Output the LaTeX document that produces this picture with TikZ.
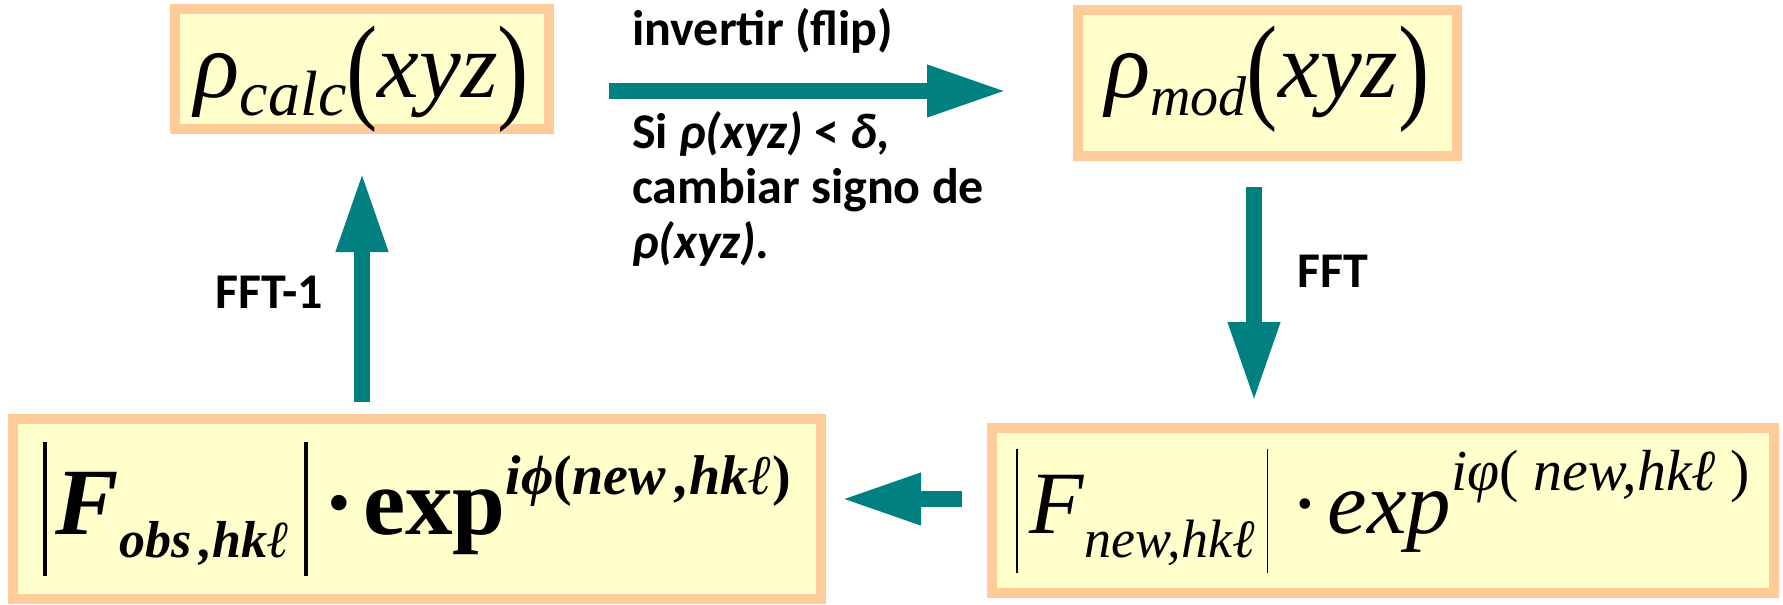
\documentclass[tikz,border=0pt]{standalone}
\usepackage{fontspec}
\usepackage{graphicx}
\setmainfont{Liberation Serif}
\newfontfamily\lblfont{Carlito}
\usetikzlibrary{arrows.meta, calc}
\definecolor{BoxFill}{HTML}{FFFFCC}
\definecolor{BoxLine}{HTML}{FFCC99}
\definecolor{Teal}   {HTML}{008080}
\newcommand{\fsz}[1]{\fontsize{#1}{#1}\selectfont}
\newcommand{\absbar}[3]{\raisebox{-#2}{\rule{#1}{#3}}}
\newcommand{\tallparen}[1]{\raisebox{-10pt}{\scalebox{1}[1.25]{\upshape #1}}}

\begin{document}
\begin{tikzpicture}[x=1pt, y=-1pt,
    formbox/.style={draw=BoxLine, fill=BoxFill, line width=10pt, inner sep=0pt, font=\rmfamily},
    flowarrow/.style={draw=Teal, line width=16pt, -{Triangle[length=80pt, width=48pt]}},
    lbl/.style={font={\lblfont\bfseries\fontsize{50}{55}\selectfont}, inner sep=0pt}]
      \path[use as bounding box, fill=white] (0,0) rectangle (1783,605);
      % ── density boxes (top row) ─────────────────────────────────────────────
      \node[formbox, minimum width=374pt, minimum height=120pt,
            text height=87pt, text depth=31pt] (calc) at (362,69)
        {\fsz{94}\itshape ρ\raisebox{-18pt}{\fsz{64}calc}\tallparen{(}xyz\tallparen{)}};
      \node[formbox, minimum width=379pt, minimum height=146pt,
            text height=59pt, text depth=31pt] (mod) at (1267.5,83)
        {\fsz{94}\itshape ρ\raisebox{-18pt}{\fsz{56}mod}\tallparen{(}xyz\tallparen{)}};
      % ── structure factor boxes (bottom row) ─────────────────────────────────
      \node[formbox, minimum width=808pt, minimum height=180pt,
            text height=92pt, text depth=42pt] (obs) at (417,509)
        {\fsz{95}\bfseries\absbar{3.5pt}{42pt}{134pt}\hspace{9pt}\textit{F}%
         \raisebox{-23pt}{\fsz{52}\itshape obs\,,hkℓ}\hspace{14pt}%
         \absbar{3.5pt}{42pt}{134pt}\hspace{16pt}·\hspace{8pt}exp%
         \raisebox{40pt}{\fsz{56}\itshape iϕ\upshape(\itshape new\,,hkℓ\upshape)}};
      \node[formbox, minimum width=782pt, minimum height=165pt,
            text height=85pt, text depth=40pt] (new) at (1383,510.5)
        {\fsz{89}\absbar{1.5pt}{40pt}{124pt}\hspace{12pt}\textit{F}%
         \raisebox{-24pt}{\fsz{54}\itshape new,hkℓ}\hspace{12pt}%
         \absbar{1.5pt}{40pt}{124pt}\hspace{22pt}·\hspace{8pt}\textit{exp}%
         \raisebox{43pt}{\fsz{58}\itshape iφ\upshape(\itshape\ new,hkℓ\ \upshape)}};
      % ── cycle arrows ────────────────────────────────────────────────────────
      \draw[flowarrow, shorten <=55pt, shorten >=66pt]
        ([yshift=-22pt]calc.east) -- ([yshift=-8pt]mod.west);
      \draw[flowarrow, shorten <=26pt, shorten >=21pt]
        ([xshift=-13.5pt]mod.south) -- ([xshift=-13.5pt]mod.south |- new.north);
      \draw[flowarrow, shorten <=25pt, shorten >=15pt]
        ([yshift=11.5pt]new.west) -- ([yshift=11.5pt]new.west -| obs.east);
      \draw[flowarrow, shorten <=12pt, shorten >=38pt]
        (calc.south |- obs.north) -- (calc.south);
      % ── step labels ─────────────────────────────────────────────────────────
      \node[lbl, anchor=base west] (fliplbl) at (632,45) {invertir (flip)};
      \node[lbl, anchor=base west, align=left] (condlbl) at (632,258)
        {Si \textit{ρ(xyz)} < \textit{δ,}\\cambiar signo de\\\textit{ρ(xyz).}};
      \node[lbl, anchor=base west] (fftlbl) at (1297,287) {FFT};
      \node[lbl, anchor=base west] (ifftlbl) at (215,308) {FFT-1};
\end{tikzpicture}
\end{document}
